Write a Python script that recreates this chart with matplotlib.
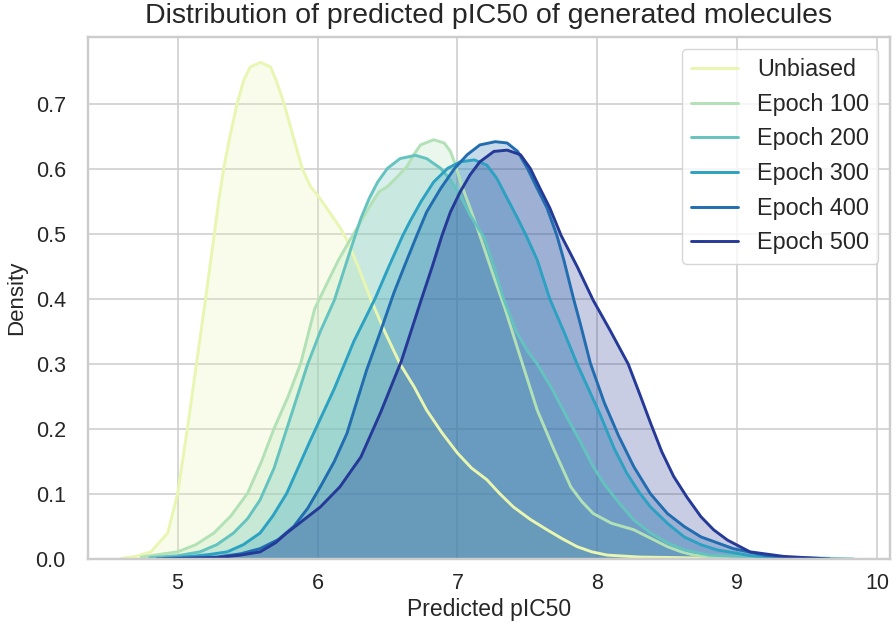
import numpy as np
import matplotlib
matplotlib.use("Agg")
import matplotlib.pyplot as plt
import seaborn as sns

# density curves (x = predicted pIC50, y = density)
unbiased_x = [4.60, 4.70, 4.81, 4.93, 5.00, 5.07, 5.135, 5.20, 5.264, 5.295, 5.33, 5.379, 5.426, 5.474, 5.52,
              5.593, 5.664, 5.712, 5.76, 5.82, 5.89, 5.95, 6.01, 6.09, 6.164, 6.21, 6.29, 6.38, 6.48, 6.59,
              6.69, 6.78, 6.89, 7.00, 7.10, 7.21, 7.30, 7.40, 7.52, 7.64, 7.75, 7.855, 7.96, 8.07, 8.30,
              8.60, 9.00]
unbiased_y = [0.001, 0.004, 0.011, 0.040, 0.100, 0.200, 0.300, 0.400, 0.502, 0.552, 0.601, 0.655, 0.701, 0.737, 0.757,
              0.764, 0.757, 0.732, 0.701, 0.655, 0.601, 0.573, 0.557, 0.532, 0.509, 0.491, 0.450, 0.400, 0.350, 0.300,
              0.265, 0.229, 0.194, 0.163, 0.140, 0.122, 0.101, 0.080, 0.061, 0.045, 0.031, 0.019, 0.011, 0.006, 0.003,
              0.002, 0.000]

e100_x = [4.74, 5.00, 5.13, 5.26, 5.38, 5.50, 5.60, 5.69, 5.79, 5.88, 5.98, 6.07, 6.15, 6.23, 6.31, 6.38,
          6.44, 6.50, 6.57, 6.64, 6.688, 6.736, 6.83, 6.905, 6.95, 6.986, 7.03, 7.09, 7.15, 7.26, 7.34, 7.45,
          7.57, 7.69, 7.81, 7.89, 7.97, 8.10, 8.26, 8.38, 8.50, 8.60, 8.69, 8.95]
e100_y = [0.003, 0.011, 0.022, 0.040, 0.066, 0.101, 0.150, 0.201, 0.250, 0.301, 0.385, 0.425, 0.460, 0.490, 0.519, 0.545,
          0.565, 0.573, 0.588, 0.604, 0.622, 0.637, 0.645, 0.640, 0.627, 0.606, 0.575, 0.540, 0.504, 0.434, 0.385, 0.310,
          0.229, 0.168, 0.111, 0.088, 0.070, 0.055, 0.045, 0.032, 0.019, 0.011, 0.006, 0.000]

e200_x = [4.80, 5.00, 5.16, 5.28, 5.40, 5.50, 5.59, 5.69, 5.78, 5.93, 6.02, 6.12, 6.22, 6.31, 6.37, 6.43,
          6.50, 6.59, 6.70, 6.78, 6.88, 6.95, 7.02, 7.09, 7.19, 7.26, 7.33, 7.42, 7.50, 7.57, 7.68, 7.78,
          7.88, 7.97, 8.05, 8.16, 8.26, 8.38, 8.50, 8.62, 8.80, 9.10, 9.50, 9.83]
e200_y = [0.002, 0.005, 0.011, 0.022, 0.040, 0.062, 0.091, 0.140, 0.200, 0.300, 0.350, 0.398, 0.465, 0.524, 0.555, 0.580,
          0.601, 0.616, 0.621, 0.616, 0.601, 0.583, 0.560, 0.529, 0.495, 0.450, 0.400, 0.350, 0.320, 0.300, 0.260, 0.219,
          0.180, 0.142, 0.115, 0.085, 0.060, 0.040, 0.025, 0.014, 0.006, 0.003, 0.002, 0.000]

e300_x = [4.90, 5.10, 5.23, 5.355, 5.47, 5.59, 5.68, 5.78, 5.95, 6.12, 6.26, 6.41, 6.51, 6.61, 6.66, 6.74,
          6.83, 6.93, 7.02, 7.12, 7.21, 7.28, 7.355, 7.43, 7.49, 7.57, 7.66, 7.76, 7.855, 7.94, 8.02, 8.12,
          8.21, 8.30, 8.38, 8.50, 8.62, 8.74, 8.855, 9.10, 9.30]
e300_y = [0.001, 0.004, 0.007, 0.011, 0.022, 0.040, 0.066, 0.101, 0.183, 0.262, 0.335, 0.400, 0.450, 0.498, 0.519, 0.550,
          0.580, 0.601, 0.611, 0.614, 0.606, 0.586, 0.555, 0.524, 0.498, 0.460, 0.400, 0.350, 0.300, 0.260, 0.222, 0.170,
          0.132, 0.102, 0.080, 0.055, 0.034, 0.022, 0.014, 0.005, 0.000]

e400_x = [5.00, 5.28, 5.45, 5.59, 5.72, 5.83, 5.93, 6.02, 6.12, 6.21, 6.35, 6.45, 6.545, 6.62, 6.71, 6.78,
          6.88, 6.98, 7.07, 7.16, 7.27, 7.355, 7.43, 7.50, 7.57, 7.64, 7.71, 7.76, 7.83, 7.88, 7.95, 8.05,
          8.15, 8.26, 8.38, 8.50, 8.62, 8.74, 8.97, 9.21, 9.50]
e400_y = [0.001, 0.003, 0.008, 0.016, 0.030, 0.050, 0.078, 0.111, 0.150, 0.193, 0.290, 0.350, 0.409, 0.450, 0.498, 0.534,
          0.570, 0.601, 0.622, 0.637, 0.642, 0.640, 0.627, 0.601, 0.570, 0.540, 0.498, 0.460, 0.400, 0.360, 0.301, 0.240,
          0.190, 0.142, 0.100, 0.070, 0.050, 0.034, 0.016, 0.005, 0.000]

e500_x = [4.85, 5.28, 5.45, 5.59, 5.70, 5.78, 5.90, 6.02, 6.16, 6.31, 6.45, 6.60, 6.74, 6.82, 6.89, 6.95,
          7.02, 7.09, 7.16, 7.26, 7.355, 7.45, 7.52, 7.59, 7.66, 7.74, 7.855, 7.97, 8.09, 8.22, 8.30, 8.38,
          8.46, 8.545, 8.64, 8.74, 8.83, 8.93, 9.09, 9.33, 9.66]
e500_y = [0.000, 0.002, 0.006, 0.011, 0.025, 0.040, 0.060, 0.080, 0.111, 0.157, 0.225, 0.305, 0.398, 0.450, 0.498, 0.534,
          0.565, 0.591, 0.611, 0.627, 0.629, 0.622, 0.601, 0.570, 0.540, 0.498, 0.450, 0.398, 0.352, 0.300, 0.255, 0.209,
          0.165, 0.127, 0.095, 0.065, 0.045, 0.029, 0.011, 0.004, 0.000]

labels = ["Unbiased", "Epoch 100", "Epoch 200", "Epoch 300", "Epoch 400", "Epoch 500"]
curves = [(unbiased_x, unbiased_y), (e100_x, e100_y), (e200_x, e200_y),
          (e300_x, e300_y), (e400_x, e400_y), (e500_x, e500_y)]

sns.set_style("whitegrid")
plt.rcParams['font.family'] = ['Liberation Sans', 'DejaVu Sans']
plt.rcParams['axes.edgecolor'] = '.8'
plt.rcParams['grid.color'] = '.8'

colors = sns.color_palette("YlGnBu", 6)

fig = plt.figure(figsize=(8.96, 6.33), dpi=100)
ax = fig.add_axes([0.0982, 0.1169, 0.895, 0.8246])

# fills first, outlines on top
for (x, y), c in zip(curves, colors):
    ax.fill_between(x, y, color=c, alpha=0.25, linewidth=0)
for (x, y), c, lab in zip(curves, colors, labels):
    ax.plot(x, y, color=c, lw=2.1, label=lab, solid_joinstyle="round", solid_capstyle="round")

ax.set_xlim(4.36, 10.09)
ax.set_ylim(0, 0.803)
ax.set_xticks([5, 6, 7, 8, 9, 10])
ax.set_yticks([0.0, 0.1, 0.2, 0.3, 0.4, 0.5, 0.6, 0.7])
ax.tick_params(axis="both", length=0, labelsize=15.5, colors=".15")
ax.tick_params(axis="y", pad=16)
ax.tick_params(axis="x", pad=10)
ax.grid(True, lw=1.12, color=".8")
for s in ax.spines.values():
    s.set_linewidth(1.75)
    s.set_color(".8")

ax.set_title("Distribution of predicted pIC50 of generated molecules", fontsize=20.5, color=".15", pad=10)
ax.set_xlabel("Predicted pIC50", fontsize=16.5, color=".15", labelpad=3)
ax.set_ylabel("Density", fontsize=16, color=".15", labelpad=6)

leg = ax.legend(loc="upper right", fontsize=16.8, frameon=True)
leg.get_frame().set_edgecolor(".8")

fig.savefig("out.png", dpi=100)
